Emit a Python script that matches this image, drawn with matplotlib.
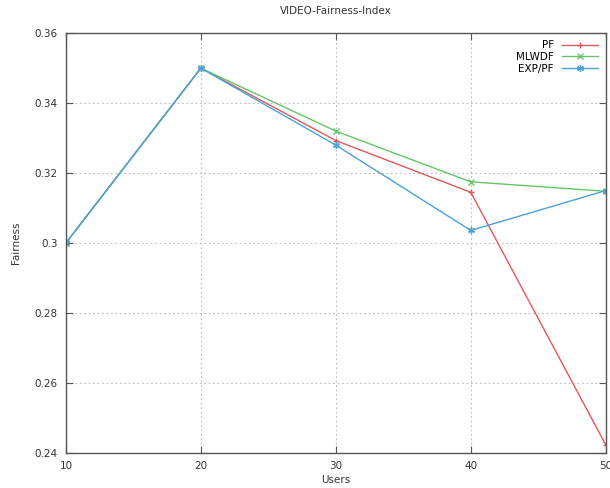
import matplotlib
matplotlib.use('Agg')
import matplotlib.pyplot as plt

users = [10, 20, 30, 40, 50]
pf = [0.300, 0.350, 0.3293, 0.3145, 0.2423]
mlwdf = [0.300, 0.350, 0.3320, 0.3175, 0.3148]
exp_pf = [0.300, 0.350, 0.3280, 0.3036, 0.3150]

y_ticks = [0.24, 0.26, 0.28, 0.30, 0.32, 0.34, 0.36]
y_labels = ['0.24', '0.26', '0.28', '0.3', '0.32', '0.34', '0.36']

plt.rcParams['font.family'] = 'DejaVu Sans'
fig = plt.figure(figsize=(6.1, 4.88), dpi=100)
ax = fig.add_axes([0.108, 0.072, 0.885, 0.860])

ax.plot(users, pf, color='#e0585c', marker='+', markersize=5, lw=1.0, label='PF')
ax.plot(users, mlwdf, color='#66c666', marker='x', markersize=4, lw=1.0, label='MLWDF')
ax.plot(users, exp_pf, color='#4aa3d8', marker=(6, 2, 0), markersize=5, lw=1.0, label='EXP/PF')

ax.set_xlim(10, 50)
ax.set_ylim(0.24, 0.36)
ax.set_xticks(users)
ax.set_yticks(y_ticks)
ax.set_yticklabels(y_labels)
ax.tick_params(direction='in', top=True, right=True, labelsize=7.5, length=5,
               color='#555555', labelcolor='#333333', pad=6)
ax.grid(True, color='#bbbbbb', linestyle=(0, (1.5, 2.5)), lw=0.8)
for s in ax.spines.values():
    s.set_color('#555555')
    s.set_linewidth(1.0)

ax.set_title('VIDEO-Fairness-Index', fontsize=7.5, color='#333333', pad=14)
ax.set_xlabel('Users', fontsize=7.5, color='#333333', labelpad=3)
ax.set_ylabel('Fairness', fontsize=7.5, color='#333333', labelpad=10)

ax.legend(loc='upper right', frameon=False, markerfirst=False, fontsize=7.5,
          handlelength=3.5, labelspacing=0.15, borderaxespad=0.3, handletextpad=0.8)

fig.savefig('out.png', dpi=100)
